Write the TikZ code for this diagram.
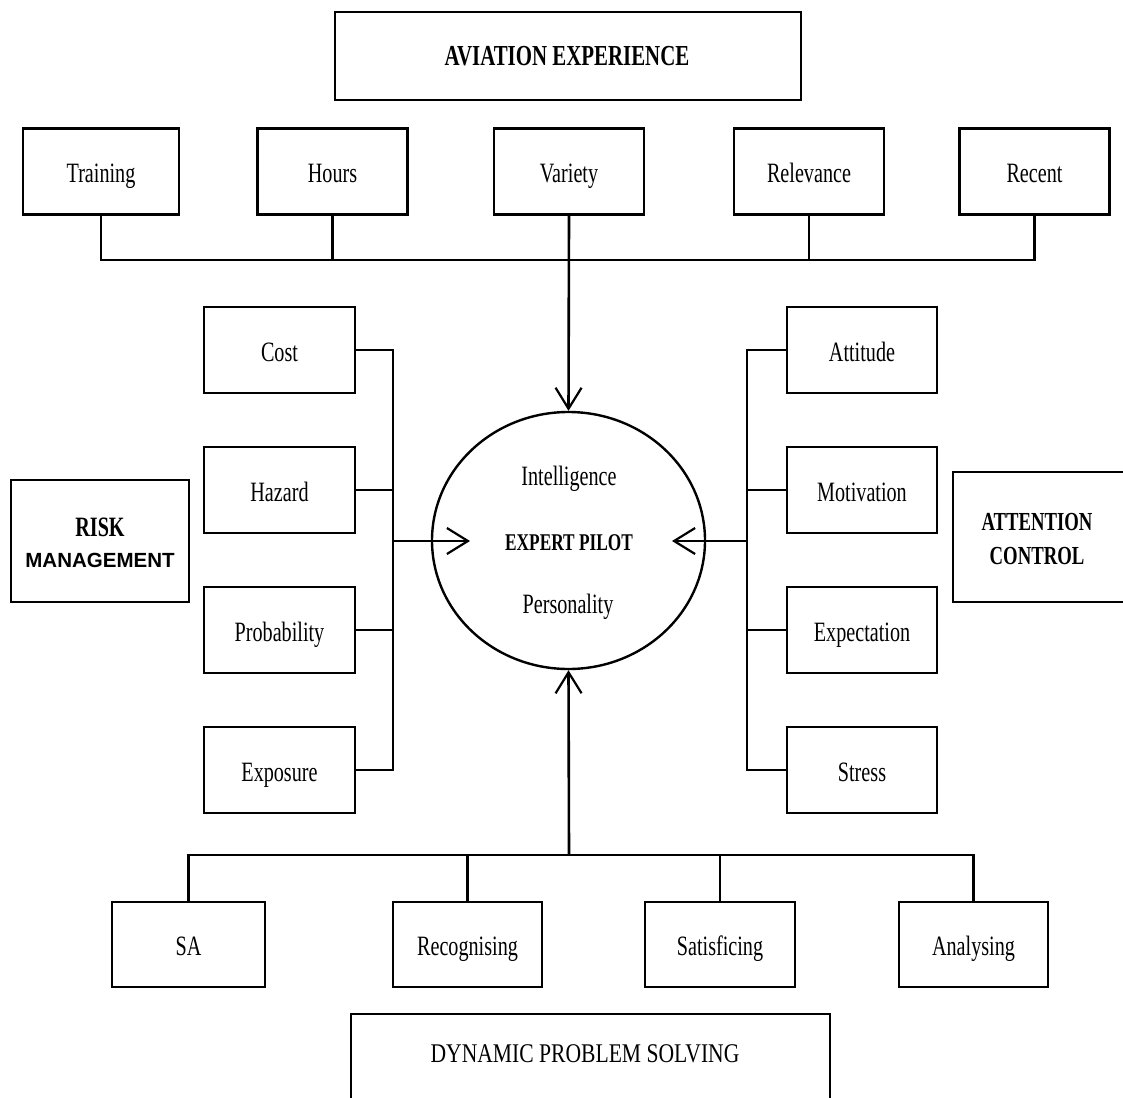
\documentclass[tikz,border=0pt]{standalone}
\usepackage{fontspec}
\setmainfont{Liberation Serif}[FakeStretch=0.72]
\newfontfamily\widerserif{Liberation Serif}[FakeStretch=0.8]
\newfontfamily\sansbold{Liberation Sans}[FakeStretch=1.0]
\usetikzlibrary{arrows.meta,shapes.geometric}
\begin{document}
\begin{tikzpicture}[x=1pt,y=-1pt,
  box/.style={draw, line width=2.8pt, inner sep=0pt, align=center},
  item/.style={box, minimum width=150pt, minimum height=86pt,
    text height=22pt, text depth=0pt,
    font=\fontsize{28}{30}\selectfont},
  head/.style={inner sep=0pt, font=\fontsize{27}{30}\selectfont\bfseries},
  link/.style={line width=2.6pt},
  feed/.style={line width=2.6pt,
    -{Straight Barb[length=21pt,width=26pt,line width=2.2pt]}}
]
\useasboundingbox (0,0) rectangle (1123,1097);

% ---- aviation experience (top) ----
\node[box, minimum width=466pt, minimum height=88pt] (avbox) at (568,56) {};
\node[head, font=\fontsize{29}{30}\selectfont\bfseries] (avtext) at (567,56) {AVIATION EXPERIENCE};

\node[item, minimum width=156pt] (training) at (101,171.5) {Training};
\node[item] (hours) at (332.5,171.5) {Hours};
\node[item] (variety) at (569,171.5) {Variety};
\node[item] (relevance) at (809,171.5) {Relevance};
\node[item] (recent) at (1034.5,171.5) {Recent};
\coordinate (topbus) at (569,260);

% ---- centre ----
\node[ellipse, draw, line width=2.4pt, minimum width=273pt, minimum height=257pt,
  inner sep=0pt] (pilot) at (568.5,540.5) {};
\node[inner sep=0pt, font=\fontsize{28}{30}\selectfont] (intel) at (569,479) {Intelligence};
\node[inner sep=0pt, font=\fontsize{24}{26}\selectfont\bfseries] (expert) at (569,543) {EXPERT PILOT};
\node[inner sep=0pt, font=\fontsize{28}{30}\selectfont] (person) at (568,607) {Personality};

% ---- risk management (left) ----
\node[box, minimum width=178pt, minimum height=122pt] (riskbox) at (100,541) {};
\node[head, font=\fontsize{28}{30}\selectfont\bfseries] (risktext) at (100,527) {RISK};
\node[inner sep=0pt, font=\fontsize{20.5}{22}\sansbold\bfseries] (mgmt) at (100,560) {MANAGEMENT};

\node[item, minimum width=151pt] (cost) at (279.5,350) {Cost};
\node[item, minimum width=151pt] (hazard) at (279.5,490) {Hazard};
\node[item, minimum width=151pt] (prob) at (279.5,630) {Probability};
\node[item, minimum width=151pt] (exposure) at (279.5,770) {Exposure};
\coordinate (lbus) at (393,541);
\coordinate (ltip) at (470,541);

% ---- attention control (right) ----
\node[box, minimum width=177pt, minimum height=130pt] (attbox) at (1041.5,537) {};
\node[head, align=center, font=\fontsize{26}{34}\selectfont\bfseries] (atttext) at (1037,539) {ATTENTION\\CONTROL};

\node[item] (attitude) at (862,350) {Attitude};
\node[item] (motivation) at (862,490) {Motivation};
\node[item] (expect) at (862,630) {Expectation};
\node[item] (stress) at (862,770) {Stress};
\coordinate (rbus) at (747,541);
\coordinate (rtip) at (672,541);

% ---- dynamic problem solving (bottom) ----
\node[item, minimum width=153pt, minimum height=85pt] (sa) at (188.5,944.5) {SA};
\node[item, minimum width=149pt, minimum height=85pt] (recog) at (467.5,944.5) {Recognising};
\node[item, minimum width=150pt, minimum height=85pt] (satis) at (720,944.5) {Satisficing};
\node[item, minimum width=149pt, minimum height=85pt] (analys) at (973.5,944.5) {Analysing};
\coordinate (botbus) at (569,855);

\node[box, minimum width=479pt, minimum height=100pt] (dpsbox) at (590.5,1064) {};
\node[inner sep=0pt, font=\fontsize{27}{30}\widerserif] (dpstext) at (585,1054) {DYNAMIC PROBLEM SOLVING};

% ---- connectors: top ----
\draw[link] (training.south) -- (training.south |- topbus) -- (recent.south |- topbus) -- (recent.south);
\draw[link] (hours.south) -- (hours.south |- topbus);
\draw[link] (relevance.south) -- (relevance.south |- topbus);
\draw[feed] (variety.south) -- (pilot.north);

% ---- connectors: left ----
\draw[link] (cost.east) -- (cost.east -| lbus) -- (exposure.east -| lbus) -- (exposure.east);
\draw[link] (hazard.east) -- (hazard.east -| lbus);
\draw[link] (prob.east) -- (prob.east -| lbus);
\draw[feed] (lbus) -- (ltip);

% ---- connectors: right ----
\draw[link] (attitude.west) -- (attitude.west -| rbus) -- (stress.west -| rbus) -- (stress.west);
\draw[link] (motivation.west) -- (motivation.west -| rbus);
\draw[link] (expect.west) -- (expect.west -| rbus);
\draw[feed] (rbus) -- (rtip);

% ---- connectors: bottom ----
\draw[link] (sa.north) -- (sa.north |- botbus) -- (analys.north |- botbus) -- (analys.north);
\draw[link] (recog.north) -- (recog.north |- botbus);
\draw[link] (satis.north) -- (satis.north |- botbus);
\draw[feed] (botbus) -- (pilot.south);
\end{tikzpicture}
\end{document}
